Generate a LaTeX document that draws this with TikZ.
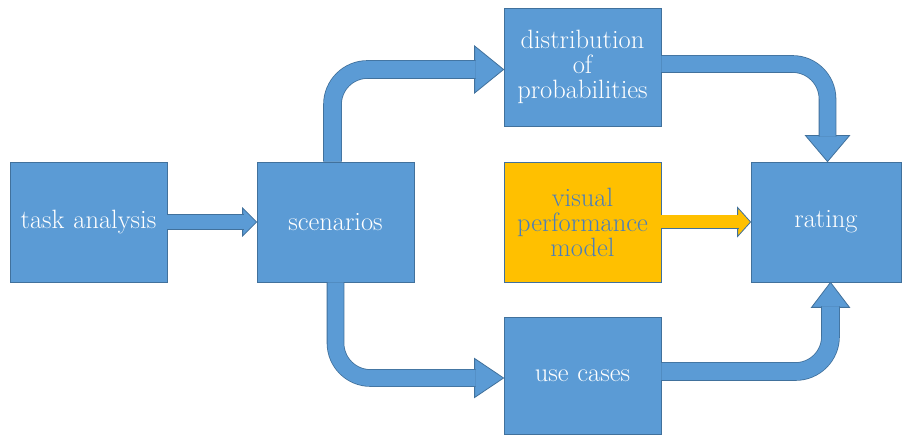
\documentclass[tikz,border=0pt]{standalone}
\usetikzlibrary{calc}
\definecolor{boxblue}{HTML}{5B9BD5}
\definecolor{bdr}{HTML}{41719C}
\definecolor{gold}{HTML}{FFC000}
\definecolor{txtblue}{HTML}{4A7EBB}
\tikzset{
  box/.style={draw=bdr, line width=0.8pt, fill=boxblue, text=white, minimum width=157pt,
    minimum height=120pt, inner sep=0pt, align=center, text width=152pt,
    font=\fontsize{26.5}{25}\selectfont},
  shaft/.style={draw=bdr, line width=0.8pt, double=boxblue, double distance=#1, rounded corners=35pt},
  oshaft/.style={draw=bdr, line width=0.8pt, double=gold, double distance=#1},
  head/.style={draw=bdr, line width=0.8pt, fill=boxblue, line join=miter},
  ohead/.style={draw=bdr, line width=0.8pt, fill=gold, line join=miter}
}
\begin{document}
\begin{tikzpicture}[x=1pt,y=-1pt]
\useasboundingbox[fill=white] (0,0) rectangle (902,435);
\node[box] (task) at (88.5,222) {task analysis};
\node[box] (scen) at (335.5,222) {scenarios};
\node[box, minimum height=118pt] (dist) at (582.5,67) {distribution\\of\\probabilities};
\node[box, fill=gold, text=txtblue] (vis) at (582.5,222) {visual\\performance\\model};
\node[box, minimum width=150pt, text width=145pt] (rating) at (826,222) {rating};
\node[box, minimum height=117pt] (use) at (582.5,375.5) {use cases};

% arrow 1: task -> scenarios
\coordinate (a1t) at (scen.west);
\coordinate (a1b) at ($(a1t)+(-14,0)$);
\filldraw[head] (a1t) -- ($(a1b)+(0,-14)$) -- ($(a1b)+(0,14)$) -- cycle;
\draw[shaft=14pt] (task.east) -- ($(a1b)+(1,0)$);

% arrow 2: scenarios -> distribution
\coordinate (a2s) at ($(scen.north)+(-3,0)$);
\coordinate (a2t) at ($(dist.west)+(0,2.5)$);
\coordinate (a2b) at ($(a2t)+(-29,0)$);
\filldraw[head] (a2t) -- ($(a2b)+(0,-23.5)$) -- ($(a2b)+(0,23.5)$) -- cycle;
\draw[shaft=17pt] (a2s) |- ($(a2b)+(1,0)$);

% arrow 3: distribution -> rating
\coordinate (a3s) at ($(dist.east)+(0,-3)$);
\coordinate (a3t) at ($(rating.north)+(1.5,0)$);
\coordinate (a3b) at ($(a3t)+(0,-26)$);
\filldraw[head] (a3t) -- ($(a3b)+(-22,0)$) -- ($(a3b)+(22,0)$) -- cycle;
\draw[shaft=16pt] (a3s) -| ($(a3b)+(0,1)$);

% arrow 4: scenarios -> use cases
\coordinate (a4s) at (scen.south);
\coordinate (a4t) at ($(use.west)+(0,2.5)$);
\coordinate (a4b) at ($(a4t)+(-29,0)$);
\filldraw[head] (a4t) -- ($(a4b)+(0,-19.5)$) -- ($(a4b)+(0,19.5)$) -- cycle;
\draw[shaft=16pt] (a4s) |- ($(a4b)+(1,0)$);

% arrow 5: use cases -> rating
\coordinate (a5s) at ($(use.east)+(0,-4)$);
\coordinate (a5t) at ($(rating.south)+(4.5,0)$);
\coordinate (a5b) at ($(a5t)+(0,25)$);
\filldraw[head] (a5t) -- ($(a5b)+(-19,0)$) -- ($(a5b)+(19,0)$) -- cycle;
\draw[shaft=17pt] (a5s) -| ($(a5b)+(0,-1)$);

% arrow 6: visual performance model -> rating
\coordinate (a6t) at (rating.west);
\coordinate (a6b) at ($(a6t)+(-13,0)$);
\filldraw[ohead] (a6t) -- ($(a6b)+(0,-14.5)$) -- ($(a6b)+(0,14.5)$) -- cycle;
\draw[oshaft=13pt] (vis.east) -- ($(a6b)+(1,0)$);
\end{tikzpicture}
\end{document}
